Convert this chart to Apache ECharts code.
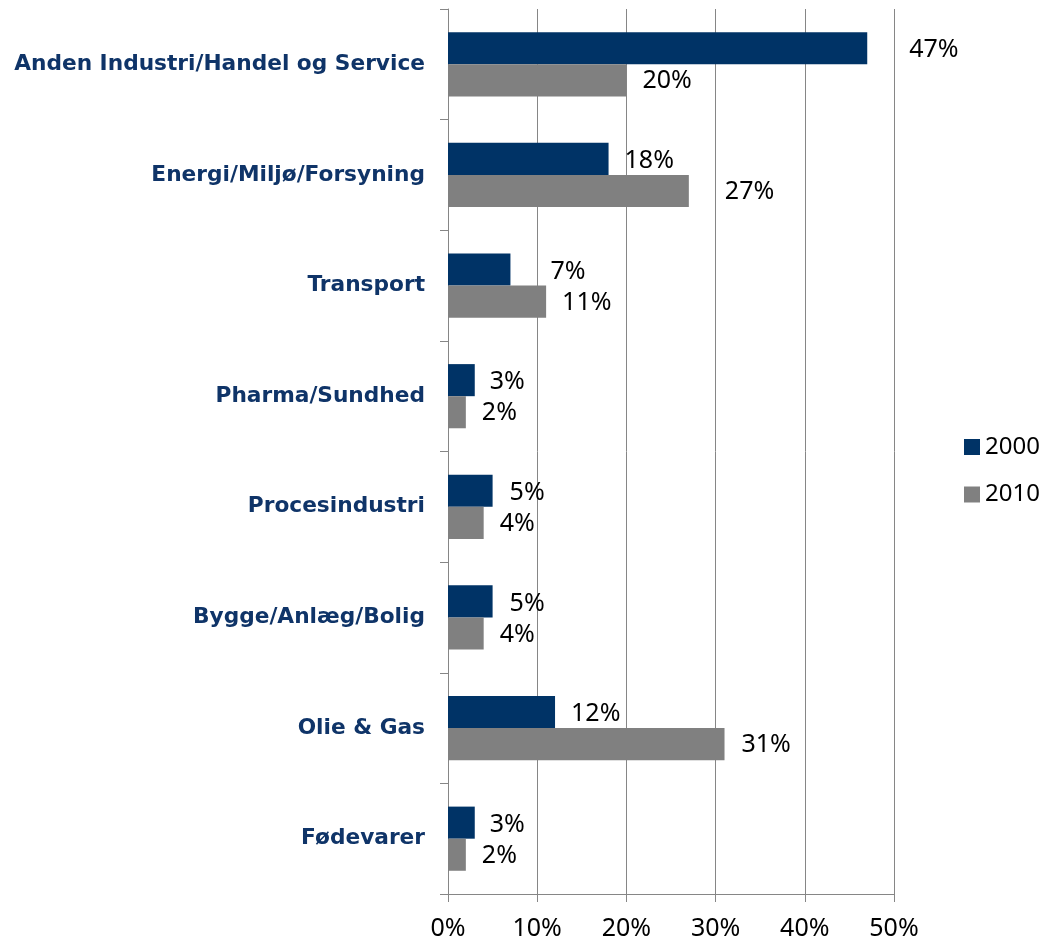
<!DOCTYPE html>
<html>
<head>
<meta charset="utf-8">
<script src="https://cdn.jsdelivr.net/npm/echarts@6/dist/echarts.min.js"></script>
<style>
html,body{margin:0;padding:0;background:#fff;}
#chart{width:1043px;height:944px;}
</style>
</head>
<body>
<div id="chart"></div>
<script>
const categories = ["Anden Industri/Handel og Service", "Energi/Miljø/Forsyning", "Transport", "Pharma/Sundhed", "Procesindustri", "Bygge/Anlæg/Bolig", "Olie & Gas", "Fødevarer"];
const seriesNames = ["2000", "2010"];
const values2000 = [47, 18, 7, 3, 5, 5, 12, 3];
const values2010 = [20, 27, 11, 2, 4, 4, 31, 2];
const xTicks = [0, 10, 20, 30, 40, 50];

// label gaps (style only)
const gap2000 = [42, 16, 40, 15, 17, 17, 16, 15];
const gap2010 = [16, 36, 16, 16, 16, 16, 17, 16];

const labelFont = '"Noto Sans", "Open Sans", sans-serif';
function build(vals, gaps) {
  return vals.map((v, i) => ({ value: v, label: { distance: gaps[i] } }));
}

const chart = echarts.init(document.getElementById('chart'));
chart.setOption({
  animation: false,
  backgroundColor: '#ffffff',
  grid: { left: 448, right: 149, top: 9, bottom: 50, containLabel: false },
  legend: {
    orient: 'vertical',
    left: 959,
    top: 430,
    padding: 5,
    itemWidth: 16,
    itemHeight: 16,
    itemGap: 23.5,
    icon: 'rect',
    textStyle: { fontFamily: labelFont, fontSize: 24, color: '#000' },
    data: seriesNames
  },
  xAxis: {
    type: 'value',
    min: xTicks[0],
    max: xTicks[xTicks.length - 1],
    interval: 10,
    axisLine: { show: true, lineStyle: { color: '#868686', width: 1 } },
    axisTick: { show: true, length: 8, lineStyle: { color: '#868686' } },
    splitLine: { show: true, lineStyle: { color: '#868686', width: 1 } },
    axisLabel: { formatter: '{value}%', fontFamily: labelFont, fontSize: 25, color: '#000', margin: 22 }
  },
  yAxis: {
    type: 'category',
    inverse: true,
    data: categories,
    axisLine: { show: true, lineStyle: { color: '#868686', width: 1 } },
    axisTick: { show: true, length: 8, lineStyle: { color: '#868686' } },
    axisLabel: { fontFamily: '"DejaVu Sans", sans-serif', fontWeight: 'bold', fontSize: 21.7, color: '#0F3468', margin: 23 }
  },
  series: [
    {
      name: seriesNames[0],
      type: 'bar',
      data: build(values2000, gap2000),
      barGap: '0%',
      barCategoryGap: '42%',
      itemStyle: { color: '#003366' },
      label: { show: true, position: 'right', offset: [0, 2], formatter: '{c}%', fontFamily: labelFont, fontSize: 25, color: '#000' }
    },
    {
      name: seriesNames[1],
      type: 'bar',
      data: build(values2010, gap2010),
      barGap: '0%',
      barCategoryGap: '42%',
      itemStyle: { color: '#808080' },
      label: { show: true, position: 'right', offset: [0, 1], formatter: '{c}%', fontFamily: labelFont, fontSize: 25, color: '#000' }
    }
  ]
});
</script>
</body>
</html>
